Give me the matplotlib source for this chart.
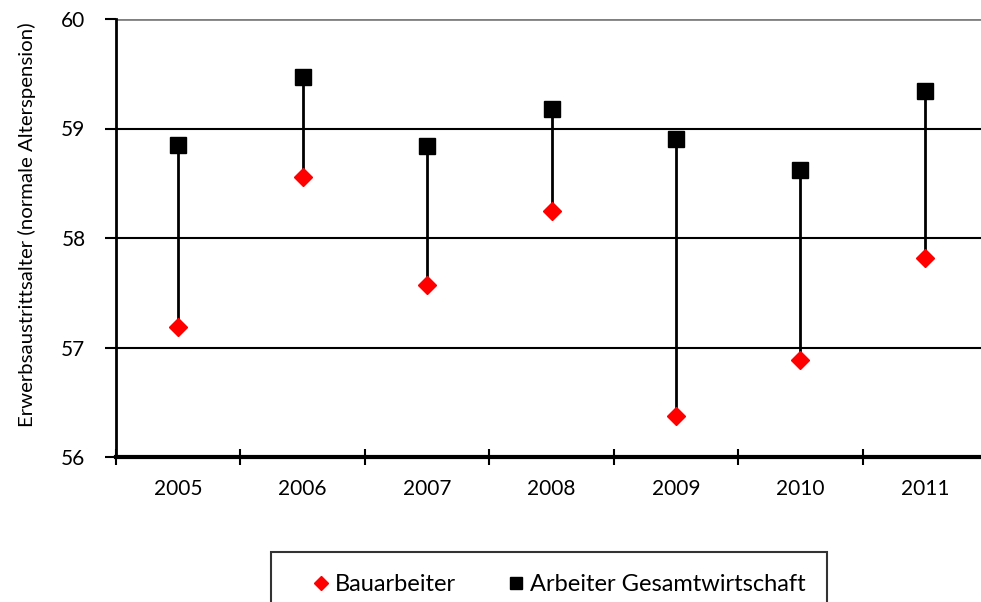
import numpy as np
import matplotlib
matplotlib.use('Agg')
import matplotlib.pyplot as plt
from matplotlib.lines import Line2D

plt.rcParams['font.family'] = ['Lato', 'DejaVu Sans']
FONT_SIZE = 15

years = ['2005', '2006', '2007', '2008', '2009', '2010', '2011']
bauarbeiter = [57.19, 58.56, 57.57, 58.25, 56.37, 56.89, 57.82]
gesamt = [58.85, 59.47, 58.84, 59.18, 58.90, 58.62, 59.34]

W, H = 981, 602
fig = plt.figure(figsize=(W / 100, H / 100), dpi=100)
ax = fig.add_axes([116 / W, 1 - 457 / H, (987 - 116) / W, (457 - 19) / H])

x = np.arange(len(years))

# horizontal gridlines, top one lighter
for v in [57, 58, 59]:
    ax.axhline(v, color='black', linewidth=1.5, zorder=1)
ax.axhline(60, color='#808080', linewidth=2, zorder=1)

ax.vlines(x, bauarbeiter, gesamt, color='black', linewidth=2, zorder=2)
ax.plot(x, bauarbeiter, linestyle='none', marker='D', markersize=9,
        color='#ff0000', markeredgecolor='#ff0000', zorder=3)
ax.plot(x, gesamt, linestyle='none', marker='s', markersize=11.5,
        color='black', zorder=3)

ax.set_xlim(-0.5, len(years) - 0.5)
ax.set_ylim(56, 60)
ax.set_yticks([56, 57, 58, 59, 60])
ax.set_xticks(x)
ax.set_xticklabels(years, fontsize=FONT_SIZE)
ax.tick_params(axis='x', length=0, pad=16)
ax.set_xticks(np.arange(len(years) + 1) - 0.5, minor=True)
ax.tick_params(axis='x', which='minor', length=12, width=1.5, direction='inout')
ax.tick_params(axis='y', length=8, width=1.5, labelsize=FONT_SIZE, pad=14)

for s in ['top', 'right']:
    ax.spines[s].set_visible(False)
ax.spines['left'].set_linewidth(2)
ax.spines['bottom'].set_linewidth(3)

ax.set_ylabel('Erwerbsaustrittsalter (normale Alterspension)', fontsize=14.7)
ax.yaxis.set_label_coords(-0.092, 0.53)

handles = [Line2D([], [], linestyle='none', marker='D', markersize=7, color='#ff0000', label='Bauarbeiter'),
           Line2D([], [], linestyle='none', marker='s', markersize=9, color='black',
                  label='Arbeiter Gesamtwirtschaft')]
leg = fig.legend(handles=handles, loc='upper left', bbox_to_anchor=(271 / W, 1 - 552 / H),
                 ncol=2, fontsize=17, frameon=True, fancybox=False,
                 handletextpad=-0.6, columnspacing=1.35, borderpad=0.93, borderaxespad=0,
                 handlelength=2.37)
leg.get_frame().set_edgecolor('black')
leg.get_frame().set_linewidth(1.5)

fig.savefig('out.png', dpi=100)
